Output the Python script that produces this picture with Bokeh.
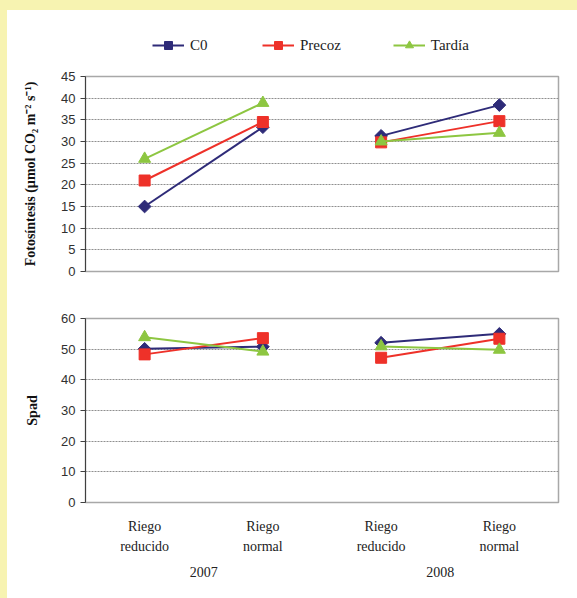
from bokeh.plotting import figure
from bokeh.models import FactorRange, Range1d, FixedTicker, Legend, LegendItem, Div
from bokeh.layouts import column, row
from bokeh.embed import file_html
from bokeh.resources import INLINE
import math

# ---- data ----
years = ["2007", "2007", "2008", "2008"]
riego = ["Riego\nreducido", "Riego\nnormal", "Riego\nreducido", "Riego\nnormal"]
series_names = ["C0", "Precoz", "Tardía"]

foto_c0 = [15.0, 33.3, 31.3, 38.4]
foto_precoz = [21.0, 34.5, 29.8, 34.7]
foto_tardia = [26.0, 38.9, 30.0, 32.0]

spad_c0 = [50.1, 50.8, 52.1, 55.0]
spad_precoz = [48.3, 53.6, 47.2, 53.4]
spad_tardia = [53.9, 49.2, 50.9, 49.8]

foto_ticks = [0, 5, 10, 15, 20, 25, 30, 35, 40, 45]
spad_ticks = [0, 10, 20, 30, 40, 50, 60]

# ---- styles ----
colors = ["#2E2B78", "#EE3129", "#8DC641"]
markers = ["square", "square", "triangle"]
angles = [math.pi / 4, 0, 0]
msizes = [9, 11, 12]
SERIF = "Liberation Serif"
SANS = "Liberation Sans"
YELLOW = "#F7F3B1"
W = 570
LEFT, RIGHT = 78, 19

factors = list(zip(years, riego))


def new_xrange():
    return FactorRange(*factors, group_padding=0, factor_padding=0, range_padding=0)


def style(p, ticks, title, standoff):
    p.outline_line_color = "#A8A8A8"
    p.outline_line_width = 1.5
    p.xgrid.grid_line_color = None
    p.ygrid.grid_line_color = "#8F8F8F"
    p.ygrid.grid_line_dash = "2 1"
    p.ygrid.grid_line_width = 1
    p.yaxis.ticker = FixedTicker(ticks=ticks)
    p.yaxis.axis_line_color = "#404040"
    p.yaxis.major_tick_line_color = "#404040"
    p.yaxis.major_tick_in = 0
    p.yaxis.major_tick_out = 5
    p.yaxis.minor_tick_line_color = None
    p.yaxis.major_label_text_font = SANS
    p.yaxis.major_label_text_font_size = "13px"
    p.yaxis.major_label_text_color = "#303030"
    p.yaxis.major_label_standoff = 5
    p.yaxis.axis_label = title
    p.yaxis.axis_label_text_font = SERIF
    p.yaxis.axis_label_text_font_style = "bold"
    p.yaxis.axis_label_text_font_size = "14px"
    p.yaxis.axis_label_text_color = "#111111"
    p.yaxis.axis_label_standoff = standoff
    p.background_fill_color = "white"
    p.border_fill_color = "white"


def draw(p, vals_list):
    rends = []
    for vals, c, m, a, s in zip(vals_list, colors, markers, angles, msizes):
        group = []
        for yr in ["2007", "2008"]:
            xs = [f for f in factors if f[0] == yr]
            ys = [v for f, v in zip(factors, vals) if f[0] == yr]
            group.append(p.line(xs, ys, line_color=c, line_width=2))
        group.append(p.scatter(factors, vals, marker=m, size=s, angle=a,
                               fill_color=c, line_color=c))
        rends.append(group)
    return rends


# ---- legend strip: same series drawn out of view, legend inside its frame ----
p0 = figure(width=W, height=58, output_backend="svg", toolbar_location=None,
            x_range=new_xrange(), y_range=Range1d(1000, 1001),
            min_border_left=LEFT, min_border_right=RIGHT,
            min_border_top=0, min_border_bottom=0)
p0.axis.visible = False
p0.grid.visible = False
p0.outline_line_color = None
p0.border_fill_color = "white"
r0 = draw(p0, [foto_c0, foto_precoz, foto_tardia])
legend = Legend(items=[LegendItem(label=n, renderers=[g[0], g[2]])
                       for n, g in zip(series_names, r0)],
                orientation="horizontal", location=(67, 13),
                glyph_width=32, glyph_height=20, label_height=20,
                label_standoff=6, spacing=52, padding=0, margin=0,
                border_line_color=None, background_fill_alpha=0,
                label_text_font=SERIF, label_text_font_size="15px",
                label_text_color="#222222")
p0.add_layout(legend, "center")

# ---- top panel ----
p1 = figure(width=W, height=222, output_backend="svg", toolbar_location=None,
            x_range=new_xrange(), y_range=Range1d(0, 45),
            min_border_left=LEFT, min_border_right=RIGHT,
            min_border_top=8, min_border_bottom=19)
style(p1, foto_ticks, "Fotosíntesis (µmol CO₂ m⁻² s⁻¹)", 20)
p1.xaxis.visible = False
draw(p1, [foto_c0, foto_precoz, foto_tardia])

# ---- bottom panel ----
p2 = figure(width=W, height=308, output_backend="svg", toolbar_location=None,
            x_range=new_xrange(), y_range=Range1d(0, 60),
            min_border_left=LEFT, min_border_right=RIGHT,
            min_border_top=28, min_border_bottom=96)
style(p2, spad_ticks, "Spad", 18)
draw(p2, [spad_c0, spad_precoz, spad_tardia])
xa = p2.xaxis[0]
xa.axis_line_color = None
xa.major_tick_line_color = None
xa.minor_tick_line_color = None
xa.major_label_text_font = SERIF
xa.major_label_text_font_size = "14px"
xa.major_label_text_color = "#222222"
xa.major_label_text_line_height = 1.35
xa.major_label_standoff = 10
xa.group_text_font = SERIF
xa.group_text_font_size = "14px"
xa.group_text_font_style = "normal"
xa.group_text_color = "#222222"
xa.group_text_line_height = 2.3
xa.separator_line_color = None

# yellow page frame strips (top and left), as in the reference
top_strip = Div(text="", width=577, height=10, margin=0,
                styles={"background-color": YELLOW})
left_strip = Div(text="", width=7, height=588, margin=0,
                 styles={"background-color": YELLOW})

layout = column(top_strip,
                row(left_strip, column(p0, p1, p2, spacing=0), spacing=0),
                spacing=0)
open("out.html", "w").write(file_html(layout, INLINE))
